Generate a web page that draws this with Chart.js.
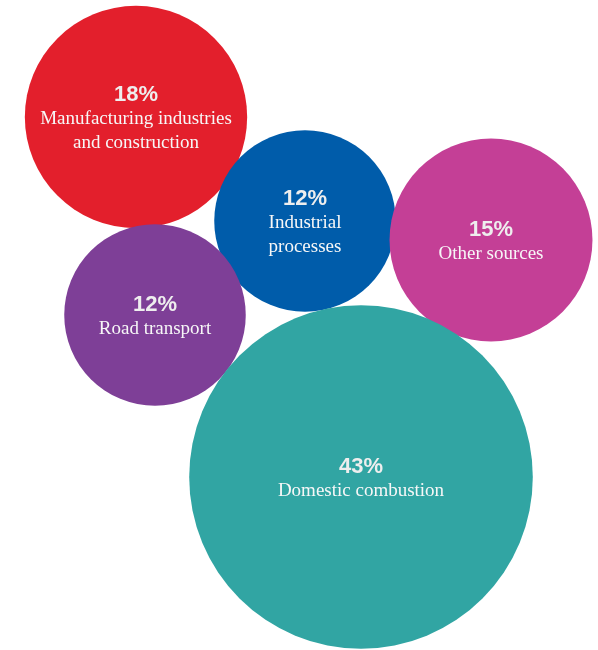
<!DOCTYPE html>
<html>
<head>
<meta charset="utf-8">
<script src="https://cdn.jsdelivr.net/npm/chart.js@4/dist/chart.umd.min.js"></script>
<style>
  html, body { margin: 0; padding: 0; background: #fff; }
  #wrap { width: 598px; height: 650px; }
</style>
</head>
<body>
<div id="wrap"><canvas id="emissionsBubbles" width="598" height="650"></canvas></div>
<script>
// Share of emissions by source (%)
const sourceLabels = [
  ['Manufacturing industries', 'and construction'],
  ['Industrial', 'processes'],
  ['Other sources'],
  ['Road transport'],
  ['Domestic combustion']
];
const shares = [18, 12, 15, 12, 43];

// Where each bubble sits on the (hidden) layout axes
const centerX = [136, 305, 491, 155, 361];
const centerY = [117, 221, 240, 315, 477];

const colours = ['#e31f2c', '#005caa', '#c43f96', '#7e3f97', '#31a5a3'];

// bubble area proportional to share
const radiusPerRootShare = 26.2;

const bubbleLabels = {
  id: 'bubbleLabels',
  afterDatasetsDraw(chart) {
    const { ctx } = chart;
    const meta = chart.getDatasetMeta(0);
    ctx.save();
    ctx.textAlign = 'center';
    ctx.textBaseline = 'middle';
    meta.data.forEach((pt, i) => {
      const lines = sourceLabels[i];
      const lineH = 24;
      const total = lines.length * lineH;
      let y = pt.y + 2 - total / 2;
      ctx.fillStyle = '#eeeeee';
      ctx.font = 'bold 22px "Liberation Sans", Arial, sans-serif';
      ctx.fillText(shares[i] + '%', pt.x, y);
      ctx.fillStyle = '#f7f7f7';
      ctx.font = '19px "Liberation Serif", "Times New Roman", serif';
      lines.forEach((line, k) => {
        ctx.fillText(line, pt.x, y + lineH * (k + 1));
      });
    });
    ctx.restore();
  }
};

new Chart(document.getElementById('emissionsBubbles'), {
  type: 'bubble',
  data: {
    datasets: [{
      data: shares.map((s, i) => ({ x: centerX[i], y: centerY[i], r: radiusPerRootShare * Math.sqrt(s) })),
      backgroundColor: colours,
      borderWidth: 0,
      hoverBorderWidth: 0,
      clip: false
    }]
  },
  options: {
    responsive: false,
    animation: false,
    layout: { padding: 0, autoPadding: false },
    plugins: {
      legend: { display: false },
      tooltip: { enabled: false }
    },
    scales: {
      x: { type: 'linear', min: 0, max: 598, display: false },
      y: { type: 'linear', min: 0, max: 650, reverse: true, display: false }
    }
  },
  plugins: [bubbleLabels]
});
</script>
</body>
</html>
